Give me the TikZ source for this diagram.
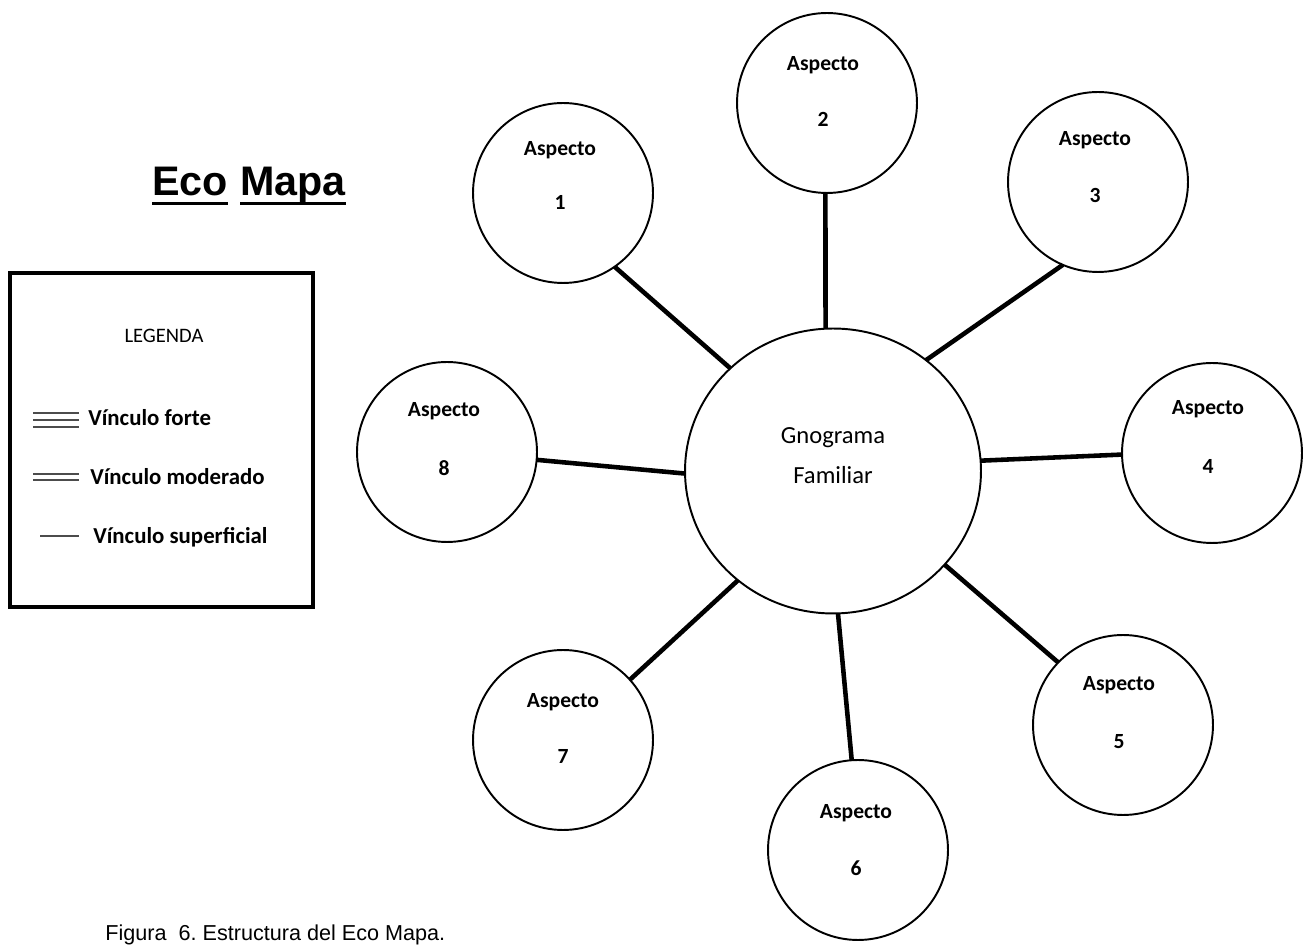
\documentclass[tikz,border=0pt]{standalone}
\usepackage{fontspec}
\setmainfont{Carlito}
\newfontfamily\arialf{Liberation Sans}
\usetikzlibrary{shapes.geometric}

\tikzset{
  aspect/.style={circle, draw, line width=1.1pt, minimum size=3.6cm, inner sep=0pt, outer sep=0pt},
  hub/.style={ellipse, draw, line width=1.1pt, minimum width=5.92cm, minimum height=5.7cm, inner sep=0pt, outer sep=0pt},
  link/.style={line width=2.6pt},
  lbl/.style={font=\bfseries\fontsize{12.3}{14}\selectfont, inner sep=0pt},
  hubtxt/.style={font=\fontsize{14}{16}\selectfont, inner sep=0pt},
  legtxt/.style={font=\bfseries\fontsize{13}{15}\selectfont, inner sep=0pt, anchor=west},
  legline/.style={line width=0.9pt, gray!60!black}
}

\begin{document}
\begin{tikzpicture}[x=0.02cm, y=-0.02cm]
\useasboundingbox (0,0) rectangle (1303,945);

% central family node
\node[hub] (c) at (833,471) {};
\node[hubtxt] (g1) at (833,438) {Gnograma};
\node[hubtxt] (g2) at (833,475) {Familiar};

% surrounding aspects
\node[aspect] (a1) at (563,193) {};
\node[aspect] (a2) at (827,103) {};
\node[aspect] (a3) at (1098,182) {};
\node[aspect] (a4) at (1212,453) {};
\node[aspect] (a5) at (1123,725) {};
\node[aspect] (a6) at (858,850) {};
\node[aspect] (a7) at (563,740) {};
\node[aspect] (a8) at (447,452) {};

\node[lbl] (t1) at (560,150) {Aspecto};  \node[lbl] (n1) at (560,202) {1};
\node[lbl] (t2) at (823,65)  {Aspecto};  \node[lbl] (n2) at (823,119) {2};
\node[lbl] (t3) at (1095,140) {Aspecto}; \node[lbl] (n3) at (1095,195) {3};
\node[lbl] (t4) at (1208,409) {Aspecto}; \node[lbl] (n4) at (1208,466) {4};
\node[lbl] (t5) at (1119,685) {Aspecto}; \node[lbl] (n5) at (1119,742) {5};
\node[lbl] (t6) at (856,813) {Aspecto};  \node[lbl] (n6) at (856,868) {6};
\node[lbl] (t7) at (563,702) {Aspecto};  \node[lbl] (n7) at (563,756) {7};
\node[lbl] (t8) at (444,411) {Aspecto};  \node[lbl] (n8) at (444,468) {8};

% links between the family and each aspect
\draw[link] (c.135) -- (a1.305);
\draw[link] (c.93)  -- (a2.269);
\draw[link] (c.50)  -- (a3.247);
\draw[link] (c.4)   -- (a4.181);
\draw[link] (c.320) -- (a5.136);
\draw[link] (c.272) -- (a6.94);
\draw[link] (c.229) -- (a7.42);
\draw[link] (c.181) -- (a8.355);

% title
\node[font=\arialf\bfseries\fontsize{23.5}{26}\selectfont, inner sep=0pt, anchor=base west] (eco) at (152,196) {Eco};
\node[font=\arialf\bfseries\fontsize{23.5}{26}\selectfont, inner sep=0pt, anchor=base west] (mapa) at (240,196) {Mapa};
\draw[line width=1.7pt] ([yshift=-4.5pt]eco.base west) -- ([yshift=-4.5pt]eco.base east);
\draw[line width=1.7pt] ([yshift=-4.5pt]mapa.base west) -- ([yshift=-4.5pt]mapa.base east);

% legend box
\node[draw, line width=2pt, minimum width=6.06cm, minimum height=6.68cm, inner sep=0pt] (leg) at (161.5,440) {};
\node[font=\fontsize{11.7}{13}\selectfont, inner sep=0pt] (legt) at (164,336) {LEGENDA};

\coordinate (f1) at (33,413); \coordinate (f1e) at (79,413);
\coordinate (f2) at (33,420); \coordinate (f2e) at (79,420);
\coordinate (f3) at (33,427); \coordinate (f3e) at (79,427);
\draw[legline] (f1) -- (f1e);
\draw[legline] (f2) -- (f2e);
\draw[legline] (f3) -- (f3e);
\node[legtxt] (lf) at (88,418) {Vínculo forte};

\coordinate (m1) at (33,474); \coordinate (m1e) at (79,474);
\coordinate (m2) at (33,480); \coordinate (m2e) at (79,480);
\draw[legline] (m1) -- (m1e);
\draw[legline] (m2) -- (m2e);
\node[legtxt] (lm) at (90,477) {Vínculo moderado};

\coordinate (s1) at (40,536); \coordinate (s1e) at (79,536);
\draw[legline] (s1) -- (s1e);
\node[legtxt] (ls) at (93,537) {Vínculo superficial};

% caption
\node[font=\arialf\fontsize{12.3}{14}\selectfont, inner sep=0pt, anchor=west] (cap) at (105,935) {Figura \ 6.\ Estructura del Eco Mapa.};
\end{tikzpicture}
\end{document}
